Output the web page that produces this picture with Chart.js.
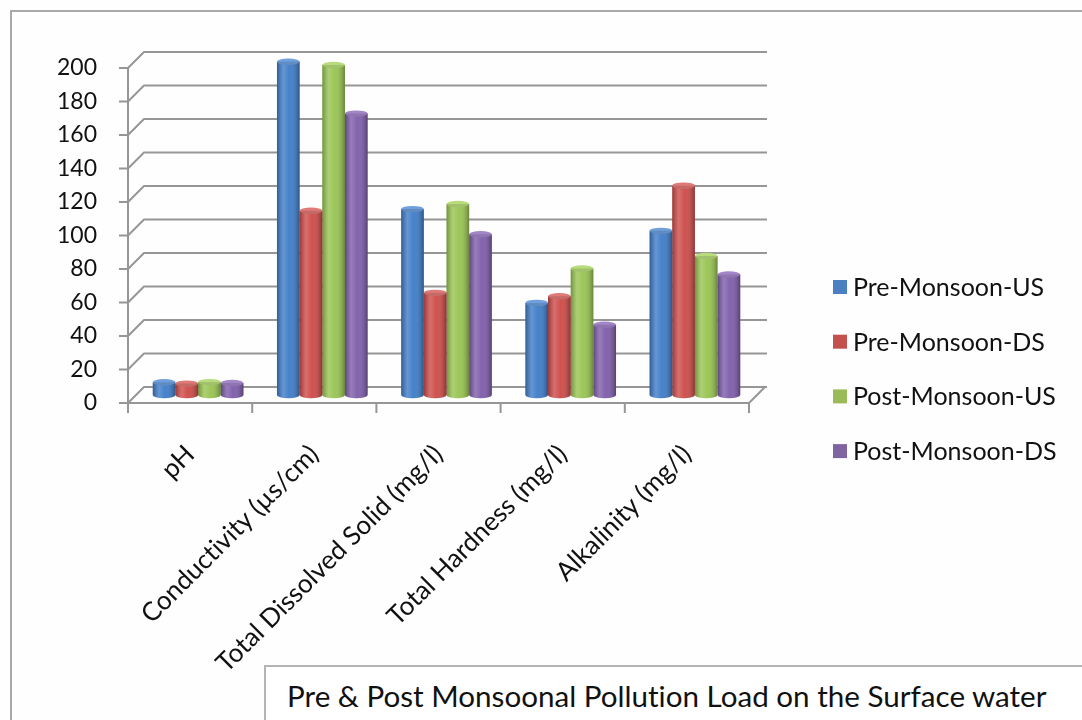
<!DOCTYPE html>
<html><head><meta charset="utf-8">
<script src="https://cdn.jsdelivr.net/npm/chart.js@4"></script>
<style>
html,body{margin:0;padding:0;background:#fff;overflow:hidden;width:1082px;height:720px;}
#wrap{position:relative;width:1082px;height:720px;background:#fefefe;}
#c{position:absolute;left:0;top:0;}
#frame{position:absolute;left:10px;top:10px;width:1100px;height:760px;border-left:2px solid #a9a9a9;border-top:2px solid #a9a9a9;pointer-events:none;box-sizing:border-box;}
#titlebox{position:absolute;left:264px;top:665px;width:900px;height:100px;border-left:2px solid #b4b4b4;border-top:2px solid #b4b4b4;background:#fff;font-family:Lato,"Open Sans",sans-serif;font-size:29.6px;color:#111;font-variant-ligatures:none;}
#titlebox span{position:absolute;left:21px;top:11px;white-space:nowrap;}
</style></head>
<body>
<div id="wrap">
<canvas id="c" width="1082" height="720"></canvas>
<div id="frame"></div>
<div id="titlebox"><span id="ttl"></span></div>
</div>
<script>
const categories = ['pH', 'Conductivity (\u00b5s/cm)', 'Total Dissolved Solid (mg/l)', 'Total Hardness (mg/l)', 'Alkalinity (mg/l)'];
const seriesNames = ['Pre-Monsoon-US', 'Pre-Monsoon-DS', 'Post-Monsoon-US', 'Post-Monsoon-DS'];
const preMonsoonUS = [7.6, 199, 111, 55, 98];
const preMonsoonDS = [6.8, 110, 61, 59, 125];
const postMonsoonUS = [7.7, 197, 114, 75.5, 83];
const postMonsoonDS = [7.2, 168, 96, 42, 72];
const yMin = 0, yMax = 200, yStep = 20;
const chartTitle = 'Pre & Post Monsoonal Pollution Load on the Surface water';

const seriesValues = [preMonsoonUS, preMonsoonDS, postMonsoonUS, postMonsoonDS];
const seriesColors = ['#3e7cc8', '#cd4b48', '#98c451', '#7e5caa'];
const capColors = ['#6f9fdc', '#e07a77', '#b8dc7c', '#a286c8'];
const legendColors = ['#4a7fc1', '#c4504d', '#9bbb59', '#8064a2'];
const FONT = 'Lato';
const depth = 8;
const gridColor = '#969696';

document.getElementById('ttl').textContent = chartTitle;

const axis3d = {
  id: 'axis3d',
  beforeDraw(chart) {
    chart.ctx.textRendering = 'optimizeSpeed';
  },
  beforeDatasetsDraw(chart) {
    const {ctx, chartArea: a, scales: {x, y}} = chart;
    ctx.save();
    ctx.strokeStyle = gridColor;
    ctx.lineWidth = 2;
    ctx.lineJoin = 'round';
    y.ticks.forEach(t => {
      const ym = y.getPixelForValue(t.value);
      ctx.beginPath();
      ctx.moveTo(a.left - depth - 9, ym + depth);
      ctx.lineTo(a.left - depth, ym + depth);
      ctx.lineTo(a.left + depth, ym - depth);
      ctx.lineTo(a.right + depth + 2, ym - depth);
      ctx.stroke();
    });
    const yTop = y.getPixelForValue(yMax), y0 = y.getPixelForValue(yMin);
    ctx.beginPath();
    ctx.moveTo(a.left - depth, yTop + depth);
    ctx.lineTo(a.left - depth, y0 + depth);
    ctx.lineTo(a.right - depth, y0 + depth);
    ctx.lineTo(a.right + depth, y0 - depth);
    ctx.stroke();
    for (let i = 0; i <= categories.length; i++) {
      const px = x.getPixelForValue(i - 0.5) - depth;
      ctx.beginPath();
      ctx.moveTo(px, y0 + depth);
      ctx.lineTo(px, y0 + depth + 10);
      ctx.stroke();
    }
    ctx.restore();
  },
  afterDatasetsDraw(chart) {
    const ctx = chart.ctx;
    ctx.save();
    chart.data.datasets.forEach((ds, di) => {
      const meta = chart.getDatasetMeta(di);
      meta.data.forEach(el => {
        const {x, y, base, width} = el.getProps(['x', 'y', 'base', 'width'], true);
        const l = x - width / 2, r = x + width / 2, rx = width / 2, ry = 3.2;
        ctx.beginPath();
        ctx.ellipse(x, base, rx, ry, 0, 0, Math.PI);
        ctx.fillStyle = seriesColors[di];
        ctx.fill();
        const g = ctx.createLinearGradient(l, 0, r, 0);
        g.addColorStop(0, 'rgba(0,0,0,0.25)');
        g.addColorStop(0.28, 'rgba(255,255,255,0.20)');
        g.addColorStop(0.55, 'rgba(255,255,255,0.04)');
        g.addColorStop(1, 'rgba(0,0,0,0.32)');
        ctx.fillStyle = g;
        ctx.beginPath();
        ctx.moveTo(l, y);
        ctx.lineTo(r, y);
        ctx.lineTo(r, base);
        ctx.ellipse(x, base, rx, ry, 0, 0, Math.PI);
        ctx.closePath();
        ctx.fill();
        ctx.beginPath();
        ctx.ellipse(x, y, rx, ry, 0, 0, Math.PI * 2);
        ctx.fillStyle = capColors[di];
        ctx.fill();
        ctx.fillStyle = 'rgba(0,0,0,0.12)';
        ctx.beginPath();
        ctx.ellipse(x, y, rx, ry, 0, 0, Math.PI);
        ctx.fill();
      });
    });
    ctx.restore();
  },
  afterDraw(chart) {
    const ctx = chart.ctx;
    ctx.save();
    ctx.font = '25px ' + FONT;
    ctx.textBaseline = 'middle';
    ctx.textAlign = 'left';
    seriesNames.forEach((name, i) => {
      const cy = 287 + i * 54.7;
      ctx.fillStyle = legendColors[i];
      ctx.fillRect(833, cy - 7, 14, 14);
      ctx.fillStyle = '#111';
      ctx.fillText(name, 853, cy + 1);
    });
    ctx.restore();
  }
};

new Chart(document.getElementById('c'), {
  type: 'bar',
  data: {
    labels: categories,
    datasets: seriesNames.map((n, i) => ({
      label: n,
      data: seriesValues[i],
      backgroundColor: seriesColors[i],
      borderWidth: 0,
      barPercentage: 1.0,
      categoryPercentage: 0.73
    }))
  },
  options: {
    responsive: false,
    animation: false,
    layout: {padding: {top: 60, left: 0, right: 325, bottom: 0}},
    plugins: {legend: {display: false}, title: {display: false}, tooltip: {enabled: false}},
    scales: {
      x: {
        grid: {display: false, drawTicks: false},
        border: {display: false},
        ticks: {
          autoSkip: false, minRotation: 45, maxRotation: 45,
          labelOffset: -depth, padding: 44,
          color: '#111', font: {family: FONT, size: 26}
        },
        afterFit(s) { s.height = 325; }
      },
      y: {
        min: yMin, max: yMax,
        grid: {display: false, drawTicks: false},
        border: {display: false},
        ticks: {
          stepSize: yStep, labelOffset: depth, padding: 39,
          color: '#111', font: {family: FONT, size: 23}
        },
        afterFit(s) { s.width = 136; }
      }
    }
  },
  plugins: [axis3d]
});
</script>
</body></html>
